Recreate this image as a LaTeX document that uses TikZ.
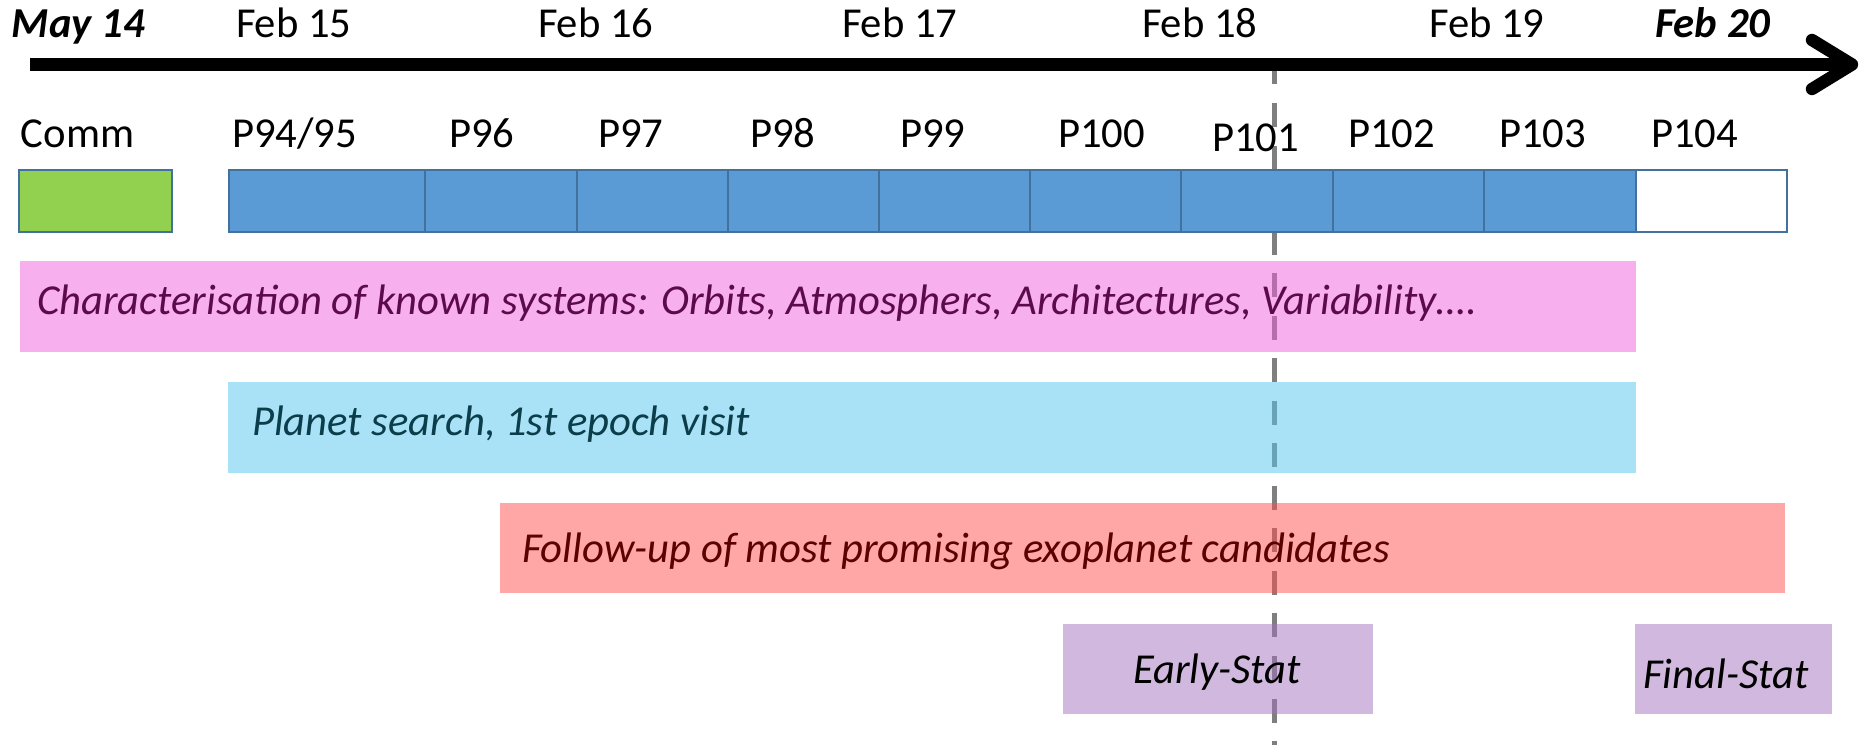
\documentclass[tikz,border=0pt]{standalone}
\usepackage{fontspec}
\setmainfont{Carlito}
\usetikzlibrary{fit}
\definecolor{cellblue}{HTML}{5B9BD5}
\definecolor{cellborder}{HTML}{41719C}
\definecolor{commgreen}{HTML}{92D050}
\definecolor{pinkbase}{HTML}{F15FDD}
\definecolor{cyanbase}{HTML}{53C5EF}
\definecolor{salmonbase}{HTML}{FF4D4D}
\definecolor{lavbase}{HTML}{A171BD}
\definecolor{pinktext}{HTML}{5C0A4E}
\definecolor{cyantext}{HTML}{0B3D4A}
\definecolor{salmontext}{HTML}{5C0000}
\definecolor{dashgray}{HTML}{7F7F7F}
\newcommand{\bigfont}{\fontsize{32}{38}\selectfont}
\begin{document}
\begin{tikzpicture}[x=0.75pt,y=-0.75pt,
  every node/.style={font=\bigfont, inner sep=0pt, outer sep=0pt},
  lbl/.style={anchor=base west},
  cell/.style={draw=cellborder, line width=1.5pt, fill=cellblue, inner sep=0pt},
  bar/.style={inner sep=0pt, fill opacity=0.5},
  axisline/.style={line width=9.3pt, line cap=round, line join=round, black},
  dline/.style={dashgray, line width=3.75pt, dash pattern=on 18pt off 13.9pt}]
\useasboundingbox (0,0) rectangle (1860,745);

% dashed marker line
\coordinate (dtop) at (1274,60.5);
\coordinate (dbot) at (1274,745);
\draw[dline] (dtop) -- (dbot);

% axis
\coordinate (axs) at (30,64.5);
\coordinate (axe) at (1852,64.5);
\coordinate (arrU) at (1812,40);
\coordinate (arrD) at (1812,89);
\draw[axisline, line cap=butt] (axs) -- (axe);
\draw[axisline] (arrU) -- (axe) -- (arrD);

% dates
\node[lbl, font=\bigfont\bfseries\itshape] (may14) at (12,38) {May 14};
\node[lbl] (f15) at (236,38) {Feb 15};
\node[lbl] (f16) at (538,38) {Feb 16};
\node[lbl] (f17) at (842,38) {Feb 17};
\node[lbl] (f18) at (1142,38) {Feb 18};
\node[lbl] (f19) at (1429,38) {Feb 19};
\node[lbl, font=\bigfont\bfseries\itshape] (f20) at (1655,38) {Feb 20};

% period labels
\node[lbl] (lcomm) at (21,148) {Comm};
\node[lbl] (l95) at (232,148) {P94/95};
\node[lbl] (l96) at (449,148) {P96};
\node[lbl] (l97) at (598,148) {P97};
\node[lbl] (l98) at (750,148) {P98};
\node[lbl] (l99) at (900,148) {P99};
\node[lbl] (l100) at (1058,148) {P100};
\node[lbl] (l101) at (1212,152) {P101};
\node[lbl] (l102) at (1348,148) {P102};
\node[lbl] (l103) at (1499,148) {P103};
\node[lbl] (l104) at (1651,148) {P104};

% cells
\node[cell, fill=commgreen, fit={(19,170) (172,232)}] (ccomm) {};
\node[cell, fit={(229,170) (425,232)}] (c95) {};
\node[cell, fit={(425,170) (577,232)}] (c96) {};
\node[cell, fit={(577,170) (728,232)}] (c97) {};
\node[cell, fit={(728,170) (879,232)}] (c98) {};
\node[cell, fit={(879,170) (1030,232)}] (c99) {};
\node[cell, fit={(1030,170) (1181,232)}] (c100) {};
\node[cell, fit={(1181,170) (1333,232)}] (c101) {};
\node[cell, fit={(1333,170) (1484,232)}] (c102) {};
\node[cell, fit={(1484,170) (1636,232)}] (c103) {};
\node[cell, fill=white, fit={(1636,170) (1787,232)}] (c104) {};

% bars
\node[bar, fill=pinkbase, fit={(20,261) (1636,352)}] (bchar) {};
\node[bar, fill=cyanbase, fit={(228,382) (1636,473)}] (bsearch) {};
\node[bar, fill=salmonbase, fit={(500,503) (1785,593)}] (bfollow) {};
\node[bar, fill=lavbase, fit={(1063,624) (1373,714)}] (bearly) {};
\node[bar, fill=lavbase, fit={(1635,624) (1832,714)}] (bfinal) {};

\node[lbl, text=pinktext, font=\bigfont\itshape] (tchar) at (37,315) {Characterisation of known systems: Orbits, Atmosphers, Architectures, Variability\dots.};
\node[lbl, text=cyantext, font=\bigfont\itshape] (tsearch) at (252,435) {Planet search, 1st epoch visit};
\node[lbl, text=salmontext, font=\bigfont\itshape] (tfollow) at (522,562) {Follow-up of most promising exoplanet candidates};
\node[anchor=base, font=\bigfont\itshape] (tearly) at (1217,683) {Early-Stat};
\node[lbl, font=\bigfont\itshape] (tfinal) at (1643,688) {Final-Stat};
\end{tikzpicture}
\end{document}
